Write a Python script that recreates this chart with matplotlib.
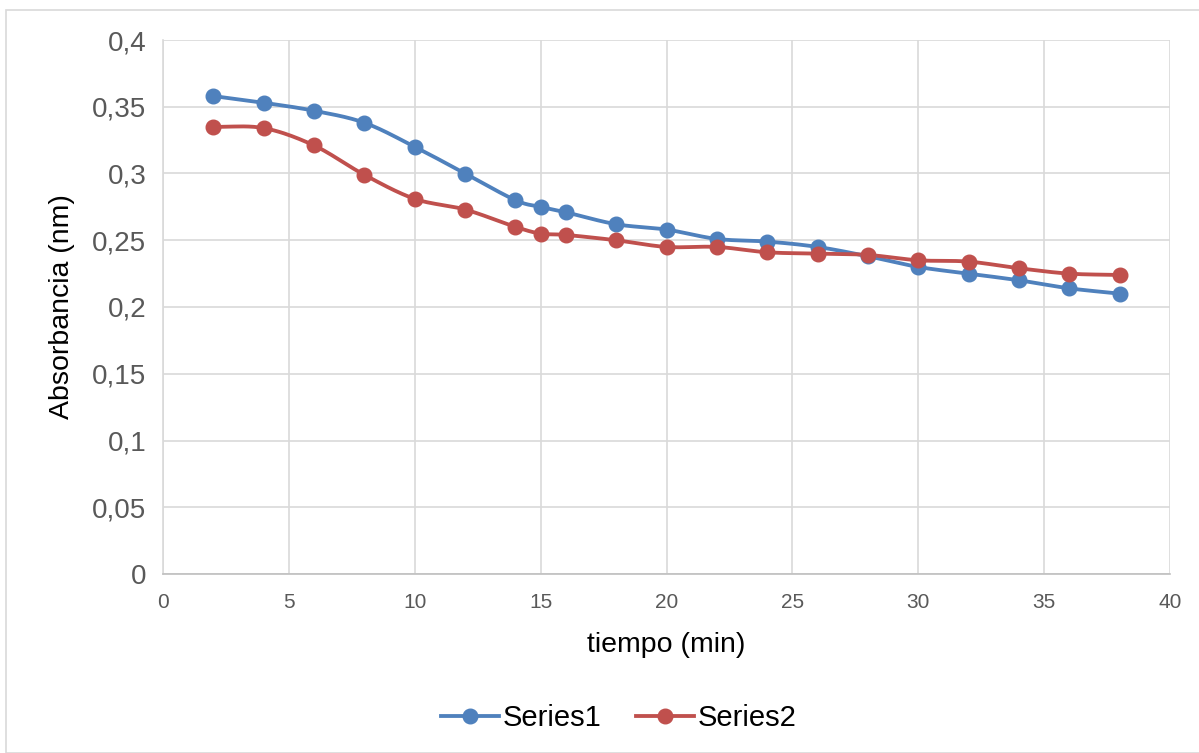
import numpy as np
import matplotlib
matplotlib.use("Agg")
import matplotlib.pyplot as plt
from matplotlib.patches import Rectangle
from matplotlib.lines import Line2D
from matplotlib.ticker import FuncFormatter

plt.rcParams['font.family'] = ['Liberation Sans', 'DejaVu Sans']

tiempo = [2, 4, 6, 8, 10, 12, 14, 15, 16, 18, 20, 22, 24, 26, 28, 30, 32, 34, 36, 38]
series1 = [0.358, 0.353, 0.347, 0.338, 0.320, 0.300, 0.280, 0.275, 0.271, 0.262,
           0.258, 0.251, 0.249, 0.245, 0.238, 0.230, 0.225, 0.220, 0.214, 0.210]
series2 = [0.335, 0.334, 0.321, 0.299, 0.281, 0.273, 0.260, 0.255, 0.254, 0.250,
           0.245, 0.245, 0.241, 0.240, 0.239, 0.235, 0.234, 0.229, 0.225, 0.224]
series_names = ["Series1", "Series2"]
colors = ["#4f81bd", "#c0504d"]


def smooth_curve(x, y, n=20):
    """Catmull-Rom style smoothing for the connecting line."""
    x = np.asarray(x, float)
    y = np.asarray(y, float)
    px = np.concatenate([[2 * x[0] - x[1]], x, [2 * x[-1] - x[-2]]])
    py = np.concatenate([[2 * y[0] - y[1]], y, [2 * y[-1] - y[-2]]])
    xs, ys = [], []
    t = np.linspace(0, 1, n, endpoint=False)
    for i in range(1, len(px) - 2):
        p0, p1, p2, p3 = px[i - 1], px[i], px[i + 1], px[i + 2]
        q0, q1, q2, q3 = py[i - 1], py[i], py[i + 1], py[i + 2]
        t2, t3 = t * t, t * t * t
        xs.append(0.5 * ((2 * p1) + (-p0 + p2) * t + (2 * p0 - 5 * p1 + 4 * p2 - p3) * t2 + (-p0 + 3 * p1 - 3 * p2 + p3) * t3))
        ys.append(0.5 * ((2 * q1) + (-q0 + q2) * t + (2 * q0 - 5 * q1 + 4 * q2 - q3) * t2 + (-q0 + 3 * q1 - 3 * q2 + q3) * t3))
    xs.append([x[-1]])
    ys.append([y[-1]])
    return np.concatenate(xs), np.concatenate(ys)


fig = plt.figure(figsize=(11.99, 7.53), dpi=100)
fig.patches.append(Rectangle((6 / 1199, 0), 1.2, (753 - 10) / 753, transform=fig.transFigure,
                             fill=False, edgecolor="#d9d9d9", linewidth=1.2, zorder=0))

ax = fig.add_axes([163 / 1199, (753 - 574) / 753, (1170 - 163) / 1199, 534 / 753])

for vals, col in zip([series1, series2], colors):
    sx, sy = smooth_curve(tiempo, vals)
    ax.plot(sx, sy, color=col, linewidth=2.75, solid_capstyle="round", zorder=3)
    ax.plot(tiempo, vals, linestyle="none", marker="o", markersize=10.5,
            color=col, zorder=4)

ax.set_xlim(0, 40)
ax.set_ylim(0, 0.4)
ax.set_xticks(np.arange(0, 41, 5))
ax.set_yticks(np.arange(0, 0.41, 0.05))
ax.yaxis.set_major_formatter(FuncFormatter(lambda v, p: ("%g" % round(v, 2)).replace(".", ",")))
ax.grid(True, color="#d9d9d9", linewidth=1.2)
ax.set_axisbelow(True)
for s in ["top", "right"]:
    ax.spines[s].set_visible(False)
ax.spines["left"].set_color("#d9d9d9")
ax.spines["left"].set_linewidth(1.2)
ax.spines["bottom"].set_color("#bfbfbf")
ax.spines["bottom"].set_linewidth(1.2)
ax.tick_params(axis="both", length=0, colors="#595959")
ax.tick_params(axis="y", labelsize=20, pad=12)
ax.tick_params(axis="x", labelsize=15, pad=14)

ax.set_xlabel("tiempo (min)", fontsize=20.5, labelpad=14)
ax.set_ylabel("Absorbancia (nm)", fontsize=20.5, labelpad=12)

handles = [Line2D([0], [0], color=c, linewidth=2.75, marker="o", markersize=10.5) for c in colors]
fig.legend(handles, series_names, loc="center", bbox_to_anchor=(0.516, 1 - 718 / 753),
           ncol=2, frameon=False, fontsize=21, handlelength=2.0, columnspacing=1.2,
           handletextpad=0.1)

fig.savefig("out.png", dpi=100)
